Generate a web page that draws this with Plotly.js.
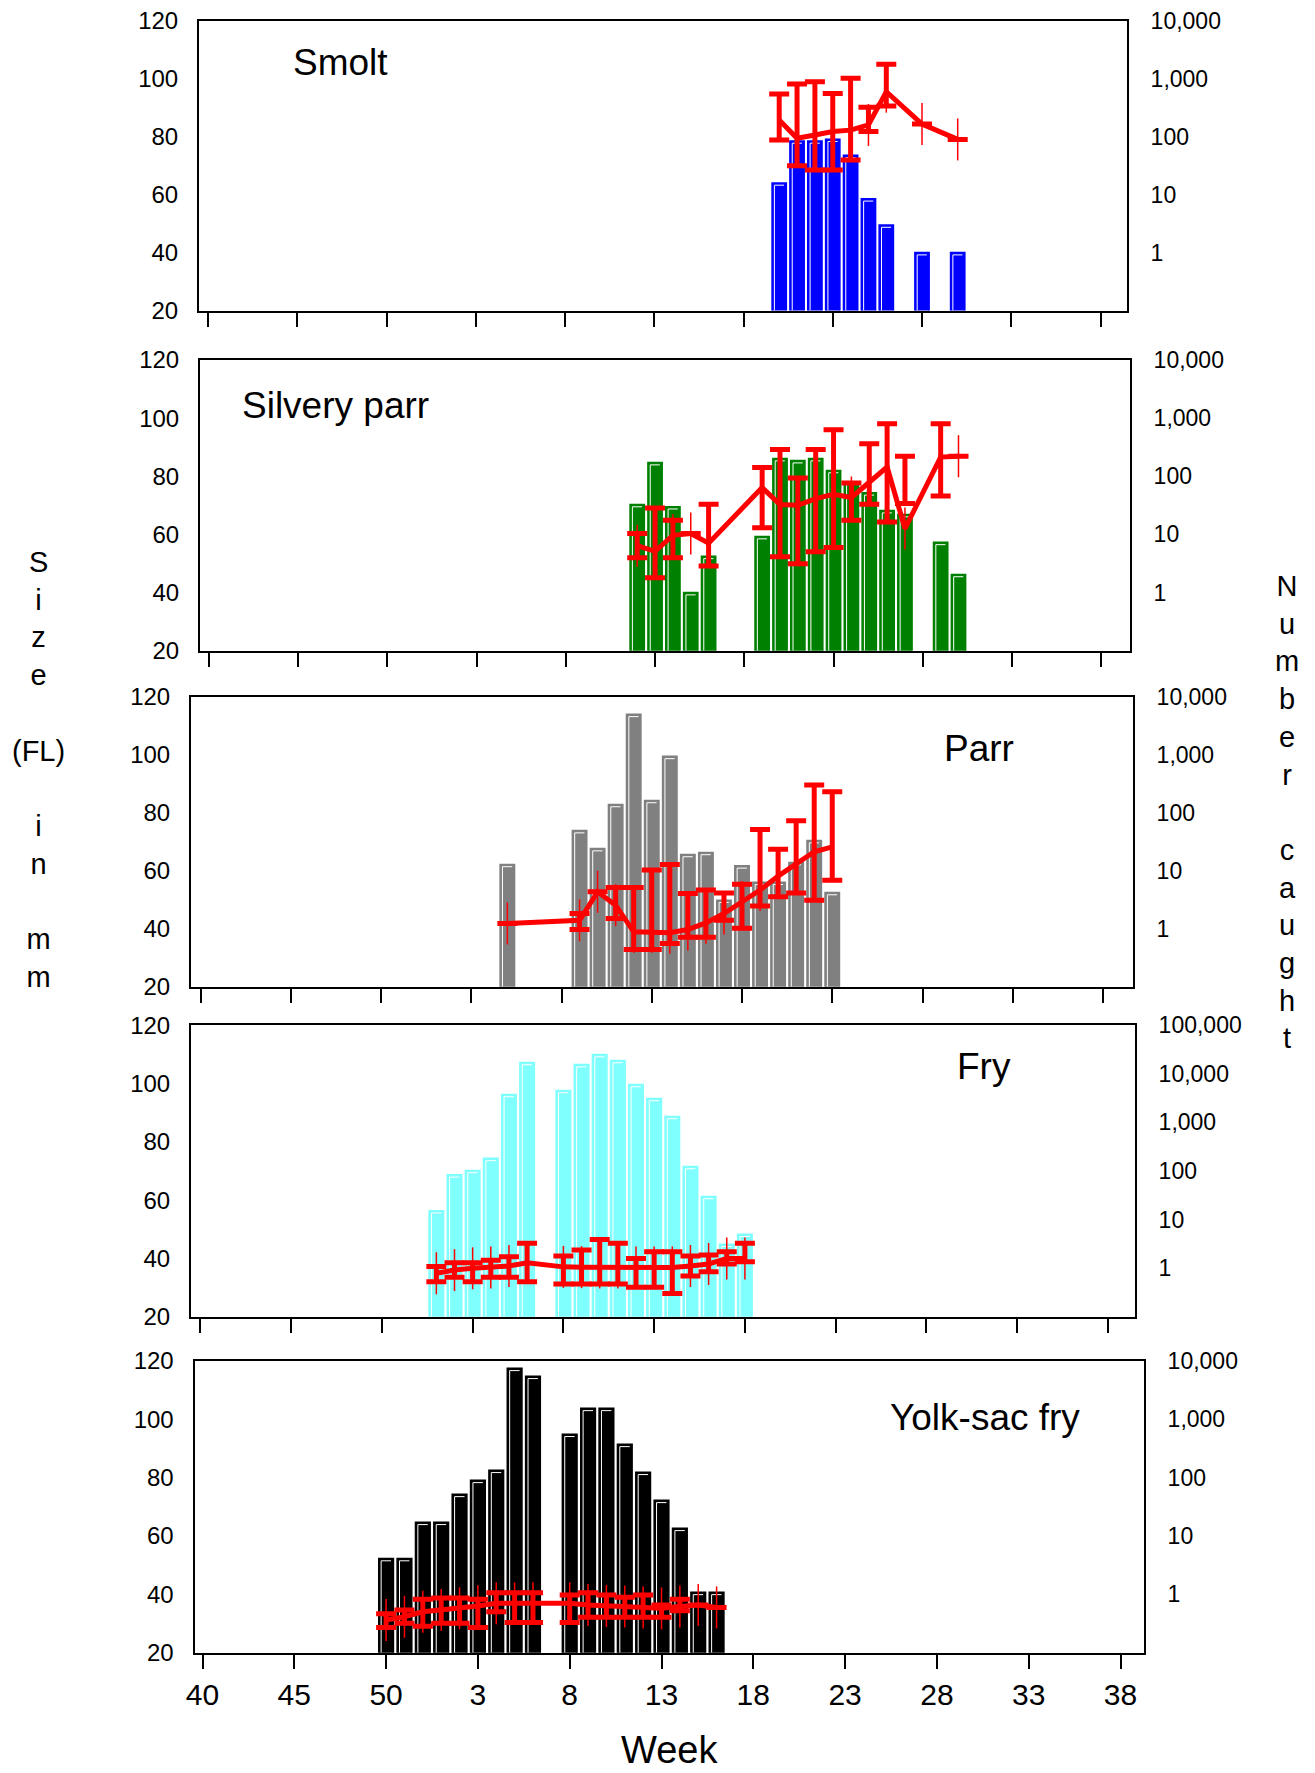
<!DOCTYPE html>
<html>
<head>
<meta charset="utf-8">
<script src="https://cdn.plot.ly/plotly-3.0.1.min.js"></script>
<style>html,body{margin:0;padding:0;background:#fff;}</style>
</head>
<body>
<div id="chart" style="width:1315px;height:1773px;"></div>
<script>
// ---------------- DATA ----------------
// x-axis tick labels (week numbers; season runs week 40 -> 52 -> 1 -> 38)
const tickWeeks = [40, 45, 50, 3, 8, 13, 18, 23, 28, 33, 38];
const sizeTicks = [20, 40, 60, 80, 100, 120];
const countTicks = [1, 10, 100, 1000, 10000];
const countTickText = ['1', '10', '100', '1,000', '10,000'];
const countTicksFry = [1, 10, 100, 1000, 10000, 100000];
const countTickTextFry = ['1', '10', '100', '1,000', '10,000', '100,000'];

// Smolt
const smoltBarWeeks = [20, 21, 22, 23, 24, 25, 26, 28, 30];
const smoltCounts   = [16, 85, 85, 91, 48, 8.5, 3, 1, 1];
const smoltSizeWeeks = [20, 21, 22, 23, 24, 25, 26, 28, 30];
const smoltMean  = [85.8, 79.5, 80.6, 81.8, 82.3, 84.1, 95.6, 84.4, 79.1];
const smoltUpper = [94.8, 98.2, 99.0, 95.0, 100.2, 90.2, 105.1, 84.4, 79.1];
const smoltLower = [78.9, 70.0, 68.5, 68.5, 72.0, 81.8, 90.6, 84.4, 79.1];

// Silvery parr
const silveryBarWeeks = [12, 13, 14, 15, 16, 19, 20, 21, 22, 23, 24, 25, 26, 27, 29, 30];
const silveryCounts   = [32.7, 172, 30, 1.0, 4.2, 9.2, 202, 186, 202, 126, 80, 52, 25.7, 22, 7.3, 2.05];
const silverySizeWeeks = [12, 13, 14, 15, 16, 19, 20, 21, 22, 23, 24, 25, 26, 27, 29, 30];
const silveryMean  = [56.1, 54.2, 59.7, 60.3, 57.0, 76.1, 70.3, 70.0, 72.3, 73.8, 72.7, 78.1, 83.2, 62.0, 86.6, 86.9];
const silveryUpper = [60.3, 69.1, 64.9, 60.3, 70.4, 83.0, 89.2, 79.4, 89.2, 96.0, 77.7, 91.2, 98.1, 86.9, 98.1, 86.9];
const silveryLower = [52.0, 45.1, 52.0, 60.3, 49.1, 62.3, 52.3, 49.9, 54.0, 55.5, 64.9, 70.4, 64.3, 70.6, 73.2, 86.9];

// Parr
const parrBarWeeks = [5, 9, 10, 11, 12, 13, 14, 15, 16, 17, 18, 19, 20, 21, 22, 23];
const parrCounts   = [12.8, 49, 24, 138, 4930, 162, 930, 19, 20.6, 3.1, 12.1, 6.3, 6.3, 13.8, 33, 4.2];
const parrSizeWeeks = [5, 9, 10, 11, 12, 13, 14, 15, 16, 17, 18, 19, 20, 21, 22, 23];
const parrMean  = [41.8, 42.9, 52.7, 48.1, 38.9, 38.9, 38.6, 39.7, 42.0, 45.2, 49.2, 53.3, 58.1, 62.5, 66.5, 68.2];
const parrUpper = [41.8, 45.2, 52.7, 54.2, 54.2, 60.2, 62.1, 52.1, 53.3, 52.3, 55.3, 74.2, 67.4, 77.2, 89.5, 87.2];
const parrLower = [41.8, 39.7, 52.7, 43.5, 32.8, 32.8, 34.9, 37.0, 37.0, 42.9, 40.1, 47.8, 51.0, 52.3, 49.8, 56.7];

// Fry
const fryBarWeeks = [1, 2, 3, 4, 5, 6, 8, 9, 10, 11, 12, 13, 14, 15, 16, 17, 18];
const fryCounts   = [15.2, 83.6, 103, 182, 3770, 17200, 4550, 15600, 25100, 18900, 6050, 3120, 1330, 124, 30, 3.1, 5.0];
const frySizeWeeks = [1, 2, 3, 4, 5, 6, 8, 9, 10, 11, 12, 13, 14, 15, 16, 17, 18];
const fryMean  = [34.9, 36.0, 36.6, 36.9, 37.4, 38.5, 37.1, 37.0, 36.9, 36.9, 36.9, 36.9, 36.9, 37.4, 38.1, 40.0, 40.0];
const fryUpper = [37.2, 38.5, 38.5, 39.4, 40.6, 45.2, 40.8, 42.9, 46.5, 45.2, 40.0, 42.3, 42.3, 40.8, 41.2, 42.3, 45.2];
const fryLower = [32.0, 33.5, 32.0, 33.5, 33.5, 32.0, 31.2, 31.2, 31.2, 31.2, 30.1, 30.1, 28.0, 34.0, 35.4, 38.1, 38.9];

// Yolk-sac fry
const yolkBarWeeks = [50, 51, 52, 1, 2, 3, 4, 5, 6, 8, 9, 10, 11, 12, 13, 14, 15, 16];
const yolkCounts   = [4.1, 4.1, 17.1, 17.1, 51.5, 89.5, 133, 7410, 5410, 550, 1530, 1530, 370, 123, 40.7, 13.5, 1.08, 1.08];
const yolkSizeWeeks = [50, 51, 52, 1, 2, 3, 4, 5, 6, 8, 9, 10, 11, 12, 13, 14, 15, 16];
const yolkMean  = [31.2, 32.3, 34.0, 34.6, 35.2, 36.0, 36.9, 36.9, 36.9, 36.9, 36.3, 36.0, 35.8, 35.5, 35.2, 35.8, 36.3, 35.5];
const yolkUpper = [33.3, 34.6, 38.3, 38.7, 38.7, 38.3, 40.5, 40.5, 40.5, 39.8, 40.5, 39.8, 39.0, 39.8, 36.3, 38.3, 36.3, 35.5];
const yolkLower = [28.6, 30.1, 29.1, 30.1, 30.1, 28.6, 34.0, 30.3, 30.3, 30.3, 32.1, 32.1, 32.1, 32.1, 32.1, 34.4, 36.3, 35.5];

// ---------------- LAYOUT / STYLE ----------------
const W = 1315, H = 1773;
const FONT = 'Liberation Sans, Arial, Helvetica, sans-serif';
const RED = '#FF0000';

// position in the season (week 40 = 0 ... week 52 = 12, week 1 = 13 ...)
function widx(w) { return w >= 40 ? w - 40 : w + 12; }

const panels = [
  { title: 'Smolt', tx: 340, ty: 63,
    barWeeks: smoltBarWeeks, counts: smoltCounts, sizeWeeks: smoltSizeWeeks,
    mean: smoltMean, upper: smoltUpper, lower: smoltLower,
    color: '#0000FF', box: [199, 1127, 21, 310.5], x0: 208, per: 17.85, logTop: 4,
    cTicks: countTicks, cText: countTickText },
  { title: 'Silvery parr', tx: 335, ty: 405,
    barWeeks: silveryBarWeeks, counts: silveryCounts, sizeWeeks: silverySizeWeeks,
    mean: silveryMean, upper: silveryUpper, lower: silveryLower,
    color: '#008000', box: [200, 1130, 360, 650.7], x0: 208.8, per: 17.85, logTop: 4,
    cTicks: countTicks, cText: countTickText },
  { title: 'Parr', tx: 979, ty: 749,
    barWeeks: parrBarWeeks, counts: parrCounts, sizeWeeks: parrSizeWeeks,
    mean: parrMean, upper: parrUpper, lower: parrLower,
    color: '#808080', box: [191, 1133, 696.5, 986.7], x0: 200.5, per: 18.05, logTop: 4,
    cTicks: countTicks, cText: countTickText },
  { title: 'Fry', tx: 984, ty: 1066,
    barWeeks: fryBarWeeks, counts: fryCounts, sizeWeeks: frySizeWeeks,
    mean: fryMean, upper: fryUpper, lower: fryLower,
    color: '#80FFFF', box: [191, 1135, 1025.3, 1316.7], x0: 200.4, per: 18.15, logTop: 5,
    cTicks: countTicksFry, cText: countTickTextFry },
  { title: 'Yolk-sac fry', tx: 985, ty: 1417,
    barWeeks: yolkBarWeeks, counts: yolkCounts, sizeWeeks: yolkSizeWeeks,
    mean: yolkMean, upper: yolkUpper, lower: yolkLower,
    color: '#000000', box: [194.5, 1144, 1360.7, 1652.7], x0: 202.5, per: 18.36, logTop: 4,
    cTicks: countTicks, cText: countTickText }
];

const traces = [];
const layout = {
  width: W, height: H,
  margin: { l: 0, r: 0, t: 0, b: 0 },
  paper_bgcolor: '#fff', plot_bgcolor: 'rgba(0,0,0,0)',
  showlegend: false, hovermode: false,
  font: { family: FONT, color: '#000' },
  annotations: []
};

const BARW = 0.8;

panels.forEach((p, i) => {
  const n = i + 1;
  const xName = n === 1 ? 'x' : 'x' + n;
  const xKey = n === 1 ? 'xaxis' : 'xaxis' + n;
  const logN = 2 * i + 1, linN = 2 * i + 2;
  const yLogName = logN === 1 ? 'y' : 'y' + logN;
  const yLogKey = logN === 1 ? 'yaxis' : 'yaxis' + logN;
  const yLinName = 'y' + linN;
  const yLinKey = 'yaxis' + linN;
  const [L, R, T, B] = p.box;

  layout[xKey] = {
    domain: [L / W, R / W],
    range: [(L - p.x0) / p.per, (R - p.x0) / p.per],
    anchor: yLogName,
    showline: true, linecolor: '#000', linewidth: 2, mirror: true,
    ticks: 'outside', ticklen: 14, tickwidth: 2, tickcolor: '#000',
    tickmode: 'array', tickvals: tickWeeks.map(widx), ticktext: tickWeeks.map(String),
    showticklabels: i === 4,
    tickfont: { family: FONT, size: 30, color: '#000' },
    showgrid: false, zeroline: false, fixedrange: true
  };
  layout[yLogKey] = {
    domain: [1 - B / H, 1 - T / H],
    type: 'log', range: [-1, p.logTop],
    side: 'right', anchor: xName,
    showline: true, linecolor: '#000', linewidth: 2, mirror: true,
    tickmode: 'array', tickvals: p.cTicks, ticktext: p.cText,
    ticks: 'outside', ticklen: 17, tickcolor: 'rgba(0,0,0,0)',
    tickfont: { family: FONT, size: 23, color: '#000' },
    showgrid: false, zeroline: false, fixedrange: true
  };
  layout[yLinKey] = {
    overlaying: yLogName, side: 'left', anchor: xName,
    range: [20, 120],
    tickmode: 'array', tickvals: sizeTicks,
    ticks: 'outside', ticklen: 15, tickcolor: 'rgba(0,0,0,0)',
    tickfont: { family: FONT, size: 24, color: '#000' },
    showline: false, showgrid: false, zeroline: false, fixedrange: true
  };

  // bars (number caught, log axis)
  const bx = p.barWeeks.map(widx);
  traces.push({
    type: 'bar', x: bx, y: p.counts, xaxis: xName, yaxis: yLogName,
    width: BARW,
    marker: { color: p.color, line: { color: p.color, width: 1.5 } }
  });
  // white inner highlight on the left and top edge of each bar
  const pxPerDec = (B - T) / (p.logTop + 1);
  const k = Math.pow(10, -2.3 / pxPerDec);
  const inset = 0.27;
  const hx = [], hy = [];
  bx.forEach((xc, j) => {
    const top = p.counts[j] * k;
    hx.push(xc - inset, xc - inset, xc + inset, null);
    hy.push(0.1, top, top, null);
  });
  traces.push({
    type: 'scatter', mode: 'lines', x: hx, y: hy, xaxis: xName, yaxis: yLogName,
    line: { color: '#FFFFFF', width: 1 }, connectgaps: false
  });

  // mean size with error bars (linear axis)
  const plus = p.upper.map((u, j) => +(u - p.mean[j]).toFixed(2));
  const minus = p.lower.map((l, j) => +(p.mean[j] - l).toFixed(2));
  traces.push({
    type: 'scatter', mode: 'lines+markers',
    x: p.sizeWeeks.map(widx), y: p.mean, xaxis: xName, yaxis: yLinName,
    line: { color: RED, width: 5 },
    marker: { symbol: 'line-ns-open', size: 30, color: RED, line: { color: RED, width: 1.5 } },
    error_y: { type: 'data', symmetric: false, array: plus, arrayminus: minus,
               color: RED, thickness: 5, width: 10 },
    cliponaxis: false
  });

  layout.annotations.push({
    xref: 'paper', yref: 'paper', x: p.tx / W, y: 1 - p.ty / H,
    xanchor: 'center', yanchor: 'middle', showarrow: false,
    text: p.title, font: { family: FONT, size: 37, color: '#000' }
  });
});

const NB = '\u00a0';
layout.annotations.push({
  xref: 'paper', yref: 'paper', x: 38 / W, y: 1 - 770 / H,
  xanchor: 'center', yanchor: 'middle', showarrow: false, align: 'center',
  text: ['S', 'i', 'z', 'e', NB, '(FL)', NB, 'i', 'n', NB, 'm', 'm'].join('<br>'),
  font: { family: FONT, size: 29, color: '#000' }
});
layout.annotations.push({
  xref: 'paper', yref: 'paper', x: 1287 / W, y: 1 - 812 / H,
  xanchor: 'center', yanchor: 'middle', showarrow: false, align: 'center',
  text: ['N', 'u', 'm', 'b', 'e', 'r', NB, 'c', 'a', 'u', 'g', 'h', 't'].join('<br>'),
  font: { family: FONT, size: 29, color: '#000' }
});
layout.annotations.push({
  xref: 'paper', yref: 'paper', x: 669 / W, y: 0,
  xanchor: 'center', yanchor: 'bottom', showarrow: false,
  text: 'Week', font: { family: FONT, size: 38, color: '#000' }
});

Plotly.newPlot('chart', traces, layout, { staticPlot: true, displayModeBar: false });
</script>
</body>
</html>
